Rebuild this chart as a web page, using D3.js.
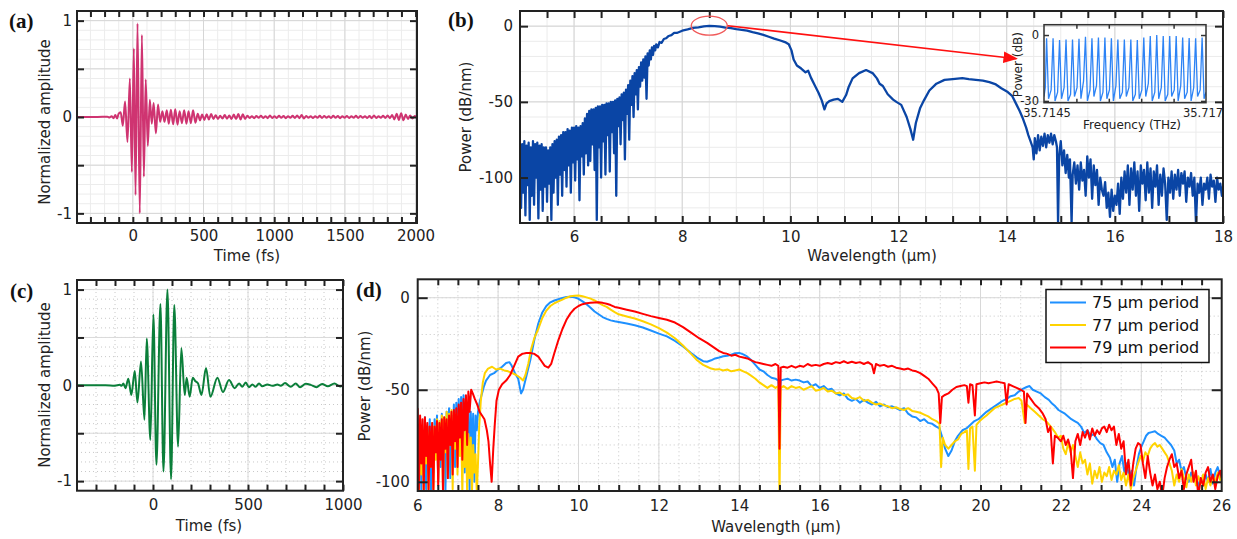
<!DOCTYPE html>
<html>
<head>
<meta charset="utf-8">
<script src="https://cdn.jsdelivr.net/npm/d3@7"></script>
<style>
body{margin:0;background:#fff;}
svg{display:block;font-family:"DejaVu Sans",sans-serif;}
</style>
</head>
<body>
<svg id="fig" width="1237" height="539"></svg>
<script>
// (a) time trace: [fs, normalized amplitude]
var pulseA = [[-395,0],[-250,0],[-180,0.003],[-165,-0.005],[-150,0.008],[-137,-0.012],[-124,0.02],[-112,-0.015],[-100,0.035],[-86,0.05],[-71,-0.09],[-55,0.16],[-38,-0.26],[-21,0.40],[-7,-0.57],[7,0.71],[19,-0.81],[33,0.97],[49,-1.0],[64,0.85],[78,-0.62],[91,0.39],[106,-0.30],[120,0.18],[134,-0.07],[147,0.145],[163,-0.17],[178,0.13],[193,-0.05],[209,0.06],[224,-0.05],[240,0.07],[254,-0.07],[269,0.076],[285,-0.076],[300,0.08],[316,-0.08],[331,0.06],[347,-0.065],[363,0.07],[379,-0.07],[394,0.06],[410,-0.065],[426,0.07],[443,-0.06],[459,0.035],[475,-0.035],
  [490,0.025],[506,-0.03],[522,0.028],[538,-0.025],[554,0.03],[570,-0.02],[586,0.018],[602,-0.02],[618,0.012],[634,-0.015],[650,0.02],[666,-0.018],[682,0.015],[698,-0.02],[714,0.025],[730,-0.022],[746,0.03],[762,-0.025],[778,0.028],[794,-0.02],[810,0.012],[826,-0.01],[842,0.008],[858,-0.012],[874,0.01],[890,-0.008],[906,0.012],[922,-0.01],[938,0.008],[954,-0.012],[970,0.015],[986,-0.01],[1002,0.008],[1018,-0.01],[1034,0.012],[1050,-0.008],[1066,0.01],[1082,-0.012],[1098,0.008],[1114,-0.008],[1130,0.012],[1146,-0.01],[1162,0.015],[1178,-0.012],[1194,0.02],[1210,-0.015],[1226,0.01],[1242,-0.008],[1258,0.008],[1274,-0.01],[1290,0.008],[1306,-0.008],[1322,0.012],[1338,-0.01],[1354,0.01],[1370,-0.008],[1386,0.008],[1402,-0.01],[1418,0.012],[1434,-0.008],[1450,0.01],[1466,-0.012],[1482,0.008],[1498,-0.008],[1514,0.01],[1530,-0.01],[1546,0.008],[1562,-0.008],[1578,0.012],[1594,-0.01],[1610,0.01],[1626,-0.008],[1642,0.008],[1658,-0.01],[1674,0.01],[1690,-0.012],[1706,0.015],[1722,-0.01],[1738,0.008],[1754,-0.008],[1770,0.012],[1786,-0.01],[1802,0.015],[1818,-0.012],[1834,0.02],[1850,-0.025],[1866,0.035],[1882,-0.03],[1898,0.04],[1914,-0.035],[1930,0.025],[1946,-0.02],[1962,0.015],[1978,-0.015],[1994,0.01],[2010,0]];

// (c) time trace: [fs, normalized amplitude]
var pulseC = [[-400,0],[-250,0.002],[-200,-0.003],[-175,0.005],[-165,-0.005],[-156,0.02],[-145,-0.03],[-130,0.07],[-114,-0.10],[-96,0.15],[-82,-0.18],[-63,0.25],[-45,-0.36],[-33,0.49],[-14,-0.57],[2,0.74],[18,-0.83],[39,0.85],[55,-0.90],[76,1.0],[95,-0.98],[112,0.84],[132,-0.64],[149,0.39],[167,-0.10],[177,0.08],[193,-0.12],[209,0.08],[222,0.045],[237,0.02],[255,-0.10],[279,0.18],[302,-0.12],[339,0.08],[368,-0.07],[400,0.055],[430,-0.03],[453,0.02],[470,-0.015],[488,0.03],[505,-0.02],[523,0.01],[540,-0.015],[558,0.02],[575,-0.01],[602,0.01],[628,-0.005],[655,0.008],[672,-0.005],[695,0.024],[725,-0.015],[751,0.02],[774,-0.02],[804,0.016],[830,0.005],[860,-0.02],[890,0.015],[920,-0.01],[955,0.02],[985,-0.012],[1000,0]];

// (b) spectrum: [wavelength um, dB/nm]
var spectrumB = [[5.00,-80],[5.02,-120],[5.04,-78],[5.06,-110],[5.08,-76],[5.10,-125],[5.12,-79],[5.14,-105],[5.16,-77],[5.18,-128],[5.20,-80],[5.22,-112],[5.24,-76],[5.26,-118],[5.28,-78],[5.30,-100],[5.32,-77],[5.34,-127],[5.36,-79],[5.38,-108],[5.40,-78],[5.42,-122],[5.44,-80],[5.46,-106],[5.48,-80],[5.50,-116],[5.52,-82],[5.54,-104],[5.56,-80],[5.58,-128],[5.60,-78],[5.62,-110],[5.64,-76],[5.66,-100],[5.68,-75],[5.70,-118],[5.72,-73],[5.74,-98],[5.76,-72],[5.78,-112],[5.80,-70],[5.82,-95],[5.84,-70],[5.86,-106],[5.88,-68],[5.90,-92],[5.92,-69],[5.94,-110],[5.96,-67],[5.98,-90],[6.00,-67],[6.02,-102],[6.04,-66],[6.06,-88],[6.08,-67],[6.10,-115],[6.12,-66],[6.14,-86],[6.16,-64],[6.18,-98],[6.20,-61],[6.22,-84],[6.24,-58],[6.26,-92],[6.28,-56],[6.30,-89],[6.32,-55],[6.34,-78],[6.36,-55],[6.38,-95],[6.40,-54],[6.42,-128],[6.44,-53],[6.46,-80],[6.48,-53],[6.50,-100],[6.52,-52],[6.54,-76],[6.56,-52],[6.58,-98],[6.60,-51],[6.62,-72],[6.64,-51],[6.66,-96],[6.68,-50],[6.70,-70],[6.72,-50],[6.74,-84],[6.76,-49],[6.78,-112],[6.80,-48],[6.82,-66],[6.84,-47],[6.86,-78],[6.88,-45],[6.90,-62],[6.92,-44],[6.94,-88],[6.96,-42],[6.98,-58],[7.00,-39],[7.02,-75],[7.04,-36],[7.06,-52],[7.08,-33],[7.10,-60],[7.12,-31],[7.14,-45],[7.16,-29],[7.18,-55],[7.20,-27],[7.22,-40],[7.24,-24],[7.26,-36],[7.28,-22],[7.30,-34],[7.32,-20],[7.34,-48],[7.36,-18],[7.38,-26],[7.40,-16],[7.42,-22],[7.44,-14],[7.46,-19],[7.48,-13],[7.50,-16],[7.52,-12],[7.55,-14],[7.58,-10.5],[7.62,-11],[7.66,-8.5],[7.70,-8],[7.75,-6.5],[7.80,-6],[7.85,-4.5],[7.90,-4.5],[8.00,-3],[8.10,-2.2],[8.20,-1.2],[8.30,-0.8],[8.40,-0.2],[8.50,0.2],[8.60,0],[8.70,-0.3],[8.80,-1],[8.90,-1.3],[9.00,-2],[9.10,-2.4],[9.20,-3],[9.30,-4],[9.40,-4.8],[9.50,-5.8],[9.60,-7],[9.70,-8.2],[9.80,-9.3],[9.90,-10.5],[9.97,-12],[10.02,-16],[10.06,-22],[10.12,-26],[10.20,-28],[10.28,-30.5],[10.33,-29.5],[10.38,-34],[10.45,-39],[10.52,-44],[10.58,-49],[10.63,-55],[10.67,-51],[10.72,-49.5],[10.80,-48.5],[10.88,-48],[10.96,-50],[11.03,-45.5],[11.08,-40],[11.15,-34.5],[11.27,-31],[11.40,-29],[11.52,-31],[11.60,-34.5],[11.65,-38],[11.71,-39.5],[11.80,-45],[11.90,-48.5],[11.96,-50],[12.05,-52],[12.15,-60],[12.22,-68],[12.27,-75],[12.32,-64],[12.40,-54],[12.47,-49],[12.57,-42.5],[12.70,-38],[12.85,-35.5],[13.00,-35],[13.18,-34.3],[13.30,-35],[13.43,-35.5],[13.56,-36],[13.68,-37],[13.80,-38.5],[13.90,-41],[14.02,-43.5],[14.10,-46],[14.17,-51],[14.24,-56],[14.30,-61],[14.36,-67],[14.40,-72],[14.44,-76],[14.48,-80],[14.50,-88],[14.52,-74],[14.55,-84],[14.58,-72],[14.61,-82],[14.64,-73],[14.67,-79],[14.70,-71],[14.73,-80],[14.76,-72],[14.79,-77],[14.82,-71],[14.85,-78],[14.88,-72],[14.91,-76],[14.93,-80],[14.95,-130],[14.97,-86],[15.00,-76],[15.03,-92],[15.06,-82],[15.09,-97],[15.12,-85],[15.15,-100],[15.17,-88],[15.20,-130],[15.22,-98],[15.25,-90],[15.28,-104],[15.31,-92],[15.34,-108],[15.37,-90],[15.40,-102],[15.43,-95],[15.46,-112],[15.49,-86],[15.52,-100],[15.55,-88],[15.58,-114],[15.61,-92],[15.64,-105],[15.67,-95],[15.70,-118],[15.73,-100],[15.76,-108],[15.79,-112],[15.82,-103],[15.85,-120],[15.88,-110],[15.91,-126],[15.94,-108],[15.97,-122],[16.00,-112],[16.03,-118],[16.06,-104],[16.09,-124],[16.12,-100],[16.15,-114],[16.18,-96],[16.21,-110],[16.24,-92],[16.27,-118],[16.30,-94],[16.33,-108],[16.36,-90],[16.39,-112],[16.42,-96],[16.45,-122],[16.48,-92],[16.51,-104],[16.54,-95],[16.57,-115],[16.60,-90],[16.63,-110],[16.66,-94],[16.69,-120],[16.72,-96],[16.75,-106],[16.78,-92],[16.81,-118],[16.84,-98],[16.87,-112],[16.90,-94],[16.93,-104],[16.96,-128],[16.99,-100],[17.02,-110],[17.05,-96],[17.08,-114],[17.11,-98],[17.14,-108],[17.17,-95],[17.20,-112],[17.23,-97],[17.26,-104],[17.29,-96],[17.32,-116],[17.35,-100],[17.38,-106],[17.41,-97],[17.44,-112],[17.47,-100],[17.50,-130],[17.53,-104],[17.56,-110],[17.59,-100],[17.62,-118],[17.65,-104],[17.68,-108],[17.71,-100],[17.74,-114],[17.77,-98],[17.80,-106],[17.83,-102],[17.86,-116],[17.89,-100],[17.92,-108],[17.95,-104],[17.98,-112],[18.00,-106]];

// (b) inset comb: [THz, dB]
var combInset = [[35.71450,-28],[35.71452,-24],[35.71454,-1.5],[35.71457,-29],[35.71461,-25],[35.71464,-1.5],[35.71467,-30],[35.71471,-26],[35.71474,-2.3],[35.71477,-29],[35.71481,-24],[35.71484,-2.0],[35.71487,-30],[35.71491,-27],[35.71494,-2.0],[35.71497,-28],[35.71501,-24],[35.71504,-1.7],[35.71507,-29],[35.71511,-21],[35.71514,-0.8],[35.71517,-30],[35.71521,-25],[35.71524,-1.5],[35.71527,-28],[35.71531,-23],[35.71534,-1.1],[35.71537,-30],[35.71541,-26],[35.71544,-1.1],[35.71547,-29],[35.71551,-25],[35.71554,-1.5],[35.71557,-30],[35.71561,-23],[35.71564,-2.0],[35.71567,-29],[35.71571,-26],[35.71574,-2.0],[35.71577,-28],[35.71581,-24],[35.71584,-2.0],[35.71587,-30],[35.71591,-27],[35.71594,-2.3],[35.71597,-29],[35.71601,-25],[35.71604,-1.1],[35.71607,-28],[35.71611,-22],[35.71614,-0.5],[35.71617,-30],[35.71621,-26],[35.71624,0],[35.71627,-29],[35.71631,-24],[35.71634,-0.5],[35.71637,-30],[35.71641,-27],[35.71644,-0.5],[35.71647,-28],[35.71651,-25],[35.71654,-0.5],[35.71657,-30],[35.71661,-23],[35.71664,-1.1],[35.71667,-29],[35.71671,-26],[35.71674,-1.4],[35.71677,-30],[35.71681,-24],[35.71684,-1.5],[35.71687,-28],[35.71691,-25],[35.71694,-1.1],[35.71697,-29],[35.71700,-26]];

// (d) spectra for three poling periods: [wavelength um, dB/nm]
var period75 = [[6.00,-70],[6.03,-98],[6.06,-66],[6.09,-105],[6.12,-72],[6.15,-90],[6.18,-65],[6.21,-104],[6.24,-70],[6.27,-88],[6.30,-66],[6.33,-105],[6.36,-72],[6.39,-95],[6.42,-66],[6.45,-84],[6.48,-64],[6.51,-100],[6.54,-70],[6.57,-92],[6.60,-63],[6.63,-82],[6.66,-66],[6.69,-105],[6.72,-62],[6.75,-86],[6.78,-60],[6.81,-98],[6.84,-64],[6.87,-78],[6.90,-58],[6.93,-92],[6.96,-57],[6.99,-74],[7.02,-55],[7.05,-85],[7.08,-54],[7.11,-70],[7.14,-53],[7.17,-95],[7.20,-56],[7.23,-80],[7.26,-58],[7.29,-105],[7.32,-62],[7.35,-84],[7.38,-63],[7.41,-100],[7.44,-64],[7.47,-72],[7.50,-62],[7.55,-56],[7.60,-52],[7.65,-48],[7.70,-45],[7.80,-42],[7.90,-41],[8.00,-39],[8.10,-37.5],[8.20,-35.5],[8.28,-35],[8.34,-37],[8.42,-41],[8.50,-44],[8.57,-52],[8.62,-50],[8.70,-43],[8.80,-34],[8.90,-23],[9.00,-14],[9.10,-8],[9.20,-4.5],[9.30,-2.5],[9.40,-1.5],[9.50,-0.8],[9.60,-0.2],[9.70,0.4],[9.80,0.5],[9.90,0.2],[10.00,-0.6],[10.10,-2],[10.20,-3.5],[10.30,-5.5],[10.40,-7.5],[10.50,-9],[10.60,-10.5],[10.70,-11.5],[10.80,-12.3],[10.90,-12.8],[11.00,-13.2],[11.20,-14],[11.40,-15],[11.60,-16.2],[11.80,-17.8],[12.00,-19.5],[12.20,-21],[12.40,-23.5],[12.60,-26.5],[12.80,-30],[12.95,-32.5],[13.10,-34.5],[13.20,-34.8],[13.30,-34],[13.40,-33],[13.50,-32.5],[13.60,-31.8],[13.70,-31.5],[13.80,-31],[13.90,-30.2],[14.00,-30],[14.10,-30.8],[14.20,-32],[14.30,-34],[14.40,-36.5],[14.50,-39],[14.60,-40],[14.70,-42],[14.80,-43.5],[14.90,-44],[14.97,-45],[15.00,-55],[15.03,-45],[15.10,-44.5],[15.20,-44],[15.30,-45],[15.40,-44.5],[15.50,-45],[15.60,-46],[15.70,-45.5],[15.80,-48],[15.90,-47],[16.00,-49],[16.10,-48],[16.20,-50],[16.30,-49.5],[16.40,-52],[16.50,-53],[16.60,-52],[16.70,-55],[16.80,-56],[16.90,-55],[17.00,-57],[17.10,-55.5],[17.20,-57],[17.30,-58],[17.40,-56.5],[17.50,-59],[17.60,-58],[17.70,-59.5],[17.80,-59],[17.90,-60],[18.00,-61],[18.10,-60],[18.20,-63],[18.30,-64.5],[18.40,-65],[18.50,-67],[18.60,-66],[18.70,-68],[18.80,-68.5],[18.90,-70],[18.98,-71],[19.05,-76],[19.12,-82],[19.20,-86],[19.28,-83],[19.36,-78],[19.44,-75],[19.55,-72],[19.65,-71],[19.75,-69],[19.85,-67],[19.95,-66],[20.05,-64],[20.15,-62],[20.25,-60.5],[20.35,-59],[20.45,-57.5],[20.55,-56],[20.65,-55],[20.75,-53.5],[20.85,-53],[20.95,-51],[21.05,-49.5],[21.15,-48.5],[21.22,-48],[21.30,-50],[21.40,-51],[21.50,-52],[21.60,-54],[21.70,-55.5],[21.78,-57.5],[21.86,-59],[21.94,-61],[22.02,-62],[22.10,-63],[22.18,-64.5],[22.26,-66],[22.34,-67],[22.42,-68],[22.50,-70],[22.58,-73.5],[22.66,-72],[22.74,-75],[22.82,-74],[22.90,-77],[22.98,-79],[23.06,-80],[23.14,-84],[23.22,-87],[23.28,-92],[23.34,-88],[23.40,-100],[23.46,-90],[23.52,-86],[23.58,-95],[23.64,-90],[23.70,-98],[23.76,-94],[23.82,-102],[23.88,-92],[23.94,-85],[24.00,-81],[24.06,-78],[24.12,-75],[24.18,-73.5],[24.26,-73],[24.34,-72.5],[24.42,-74],[24.50,-75],[24.58,-76],[24.66,-78],[24.74,-80],[24.82,-83],[24.88,-90],[24.94,-88],[25.00,-94],[25.06,-92],[25.12,-98],[25.18,-100],[25.24,-95],[25.30,-99],[25.36,-96],[25.42,-103],[25.48,-98],[25.54,-102],[25.60,-96],[25.66,-100],[25.72,-93],[25.78,-101],[25.84,-95],[25.90,-92],[25.96,-97],[26.00,-94]];

var period77 = [[6.00,-74],[6.03,-105],[6.06,-72],[6.09,-96],[6.12,-75],[6.15,-106],[6.18,-71],[6.21,-90],[6.24,-70],[6.27,-104],[6.30,-73],[6.33,-92],[6.36,-68],[6.39,-106],[6.42,-70],[6.45,-88],[6.48,-66],[6.51,-100],[6.54,-67],[6.57,-86],[6.60,-64],[6.63,-106],[6.66,-65],[6.69,-84],[6.72,-62],[6.75,-98],[6.78,-63],[6.81,-80],[6.84,-61],[6.87,-104],[6.90,-64],[6.93,-82],[6.96,-63],[6.99,-96],[7.02,-66],[7.05,-86],[7.08,-68],[7.11,-106],[7.14,-70],[7.17,-92],[7.20,-72],[7.23,-106],[7.26,-74],[7.29,-98],[7.32,-76],[7.35,-106],[7.38,-80],[7.41,-95],[7.44,-85],[7.47,-106],[7.50,-90],[7.53,-70],[7.57,-56],[7.62,-46],[7.67,-41],[7.75,-38.5],[7.85,-37.5],[7.95,-39],[8.05,-38.5],[8.15,-39.5],[8.25,-40],[8.35,-41],[8.45,-42],[8.55,-43.5],[8.62,-45],[8.68,-42],[8.75,-36],[8.82,-28],[8.90,-22],[9.00,-17],[9.10,-11],[9.20,-7],[9.30,-4.5],[9.40,-3],[9.50,-2],[9.60,-1],[9.70,0],[9.80,0.8],[9.90,1],[10.00,1.2],[10.10,0.8],[10.20,0.2],[10.30,-0.5],[10.40,-1.5],[10.50,-2.8],[10.60,-4],[10.70,-5],[10.80,-6.5],[10.90,-7.8],[11.00,-9],[11.20,-10.2],[11.40,-11.3],[11.60,-12.8],[11.80,-14.5],[12.00,-16.5],[12.20,-19],[12.40,-22],[12.60,-26],[12.80,-30.5],[12.95,-34],[13.10,-36.5],[13.20,-37.5],[13.30,-38.5],[13.40,-39],[13.50,-38.8],[13.60,-39.5],[13.70,-39],[13.80,-40],[13.90,-39.5],[14.00,-39],[14.10,-40],[14.20,-41],[14.30,-42.5],[14.40,-44],[14.50,-46],[14.60,-47.5],[14.70,-49],[14.80,-47.5],[14.90,-49],[14.97,-48],[15.00,-108],[15.03,-49],[15.10,-48],[15.20,-49.5],[15.30,-48],[15.40,-49],[15.50,-48.5],[15.60,-50],[15.70,-49],[15.80,-48],[15.90,-50.5],[16.00,-50],[16.10,-49],[16.20,-51],[16.30,-50.5],[16.40,-52],[16.50,-51.5],[16.60,-53],[16.70,-52.5],[16.80,-54.5],[16.90,-55],[17.00,-54],[17.10,-56],[17.20,-55.5],[17.30,-57],[17.40,-58],[17.50,-57.5],[17.60,-58.5],[17.70,-59],[17.80,-60],[17.90,-59.5],[18.00,-60.5],[18.10,-61],[18.20,-60],[18.30,-61.5],[18.40,-62],[18.50,-62.5],[18.60,-63.5],[18.70,-64.5],[18.80,-66],[18.90,-67],[18.98,-68.5],[19.02,-92],[19.06,-76],[19.12,-80],[19.20,-82],[19.28,-80],[19.36,-78],[19.44,-77],[19.52,-74],[19.60,-73],[19.66,-72],[19.70,-93],[19.74,-71],[19.80,-70],[19.86,-94],[19.90,-69],[19.98,-67],[20.06,-65.5],[20.15,-64],[20.25,-62],[20.35,-60],[20.45,-59],[20.55,-58],[20.65,-57],[20.75,-56],[20.85,-55],[20.95,-54.5],[21.02,-56],[21.10,-68],[21.15,-58],[21.25,-60],[21.35,-62],[21.45,-64],[21.55,-66],[21.65,-67.5],[21.75,-70],[21.85,-73],[21.93,-76],[22.00,-75],[22.06,-82],[22.12,-85],[22.18,-79],[22.24,-84],[22.30,-80],[22.36,-86],[22.42,-92],[22.48,-84],[22.54,-90],[22.60,-88],[22.66,-96],[22.72,-90],[22.78,-101],[22.84,-94],[22.90,-98],[22.96,-92],[23.02,-100],[23.08,-95],[23.14,-97],[23.20,-92],[23.26,-99],[23.32,-94],[23.38,-96],[23.44,-91],[23.50,-99],[23.56,-95],[23.62,-102],[23.68,-96],[23.74,-104],[23.80,-98],[23.86,-94],[23.92,-90],[23.98,-86],[24.04,-89],[24.10,-84],[24.16,-86],[24.22,-82],[24.28,-80],[24.34,-79],[24.40,-81],[24.46,-80],[24.52,-82],[24.58,-84],[24.64,-86],[24.70,-90],[24.76,-94],[24.82,-102],[24.88,-96],[24.94,-100],[25.00,-93],[25.06,-98],[25.12,-103],[25.18,-96],[25.24,-100],[25.30,-95],[25.36,-102],[25.42,-97],[25.48,-101],[25.54,-96],[25.60,-104],[25.66,-98],[25.72,-102],[25.78,-97],[25.84,-100],[25.90,-95],[25.96,-99],[26.00,-96]];

var period79 = [[6.00,-60],[6.03,-104],[6.06,-64],[6.09,-90],[6.12,-66],[6.15,-106],[6.18,-65],[6.21,-86],[6.24,-68],[6.27,-106],[6.30,-70],[6.33,-92],[6.36,-68],[6.39,-106],[6.42,-70],[6.45,-84],[6.48,-67],[6.51,-102],[6.54,-68],[6.57,-88],[6.60,-66],[6.63,-106],[6.66,-65],[6.69,-82],[6.72,-66],[6.75,-98],[6.78,-64],[6.81,-80],[6.84,-62],[6.87,-96],[6.90,-61],[6.93,-78],[6.96,-60],[6.99,-92],[7.02,-58],[7.05,-76],[7.08,-57],[7.11,-88],[7.14,-55],[7.17,-72],[7.20,-53],[7.23,-80],[7.26,-51],[7.29,-62],[7.33,-50],[7.37,-52],[7.42,-55],[7.48,-58],[7.54,-62],[7.60,-64],[7.66,-66],[7.72,-72],[7.76,-78],[7.80,-90],[7.84,-100],[7.88,-82],[7.92,-68],[7.96,-56],[8.02,-50],[8.10,-47],[8.20,-45],[8.30,-42],[8.40,-37],[8.50,-32],[8.60,-30.5],[8.70,-30],[8.80,-30],[8.90,-30.5],[9.00,-32],[9.08,-34.5],[9.16,-37],[9.25,-38],[9.32,-36],[9.40,-30],[9.50,-23],[9.60,-17],[9.70,-12],[9.80,-8.5],[9.90,-6],[10.00,-4.5],[10.10,-3.5],[10.20,-3],[10.30,-2.8],[10.40,-2.6],[10.50,-2.5],[10.60,-2.8],[10.70,-3.3],[10.80,-4],[10.90,-5],[11.00,-5.5],[11.20,-6.5],[11.40,-7.5],[11.60,-8.8],[11.80,-10],[12.00,-11],[12.20,-12],[12.40,-13.5],[12.60,-16],[12.80,-19],[13.00,-22],[13.20,-24.5],[13.40,-27.5],[13.50,-29],[13.60,-30],[13.70,-30.5],[13.80,-31.5],[13.90,-31],[14.00,-32],[14.10,-32.5],[14.20,-33],[14.30,-34],[14.40,-35],[14.50,-35.5],[14.60,-36],[14.70,-36.5],[14.80,-37],[14.90,-36],[14.97,-37],[15.00,-82],[15.03,-38],[15.10,-37.5],[15.20,-38],[15.30,-37],[15.40,-38],[15.50,-37],[15.60,-37.5],[15.70,-36],[15.80,-37],[15.90,-36.5],[16.00,-37],[16.10,-36],[16.20,-35.5],[16.30,-36],[16.40,-35],[16.50,-35.5],[16.60,-34.5],[16.70,-35.5],[16.80,-34.8],[16.90,-35.5],[17.00,-35],[17.10,-36],[17.20,-35],[17.30,-36.5],[17.35,-41],[17.40,-36],[17.50,-37],[17.60,-36.5],[17.70,-37.5],[17.80,-37],[17.90,-38],[18.00,-38.5],[18.10,-39],[18.20,-38.5],[18.30,-39.5],[18.40,-40],[18.50,-41],[18.60,-42.5],[18.70,-44],[18.80,-46.5],[18.90,-49],[18.96,-52],[19.00,-68],[19.04,-54],[19.10,-53],[19.20,-52],[19.30,-50],[19.40,-48.5],[19.50,-48],[19.60,-47.5],[19.66,-48],[19.70,-57],[19.74,-47],[19.80,-47.5],[19.86,-64],[19.90,-47],[20.00,-46.5],[20.10,-46],[20.20,-46.5],[20.30,-46],[20.40,-45.5],[20.50,-46],[20.60,-46.5],[20.65,-58],[20.70,-47],[20.80,-48],[20.90,-49],[21.00,-50],[21.08,-51],[21.12,-68],[21.16,-52],[21.25,-55],[21.35,-58],[21.45,-60],[21.55,-63],[21.62,-66],[21.68,-73],[21.74,-70],[21.80,-90],[21.85,-75],[21.92,-76],[22.00,-78],[22.06,-75],[22.12,-80],[22.18,-77],[22.24,-82],[22.30,-98],[22.36,-78],[22.42,-74],[22.48,-80],[22.54,-73],[22.60,-76],[22.66,-72],[22.72,-77],[22.78,-71],[22.84,-75],[22.90,-72],[22.96,-74],[23.02,-71],[23.08,-70],[23.14,-73],[23.20,-69],[23.26,-72],[23.32,-70],[23.38,-80],[23.44,-74],[23.50,-82],[23.56,-78],[23.62,-96],[23.68,-88],[23.74,-102],[23.80,-90],[23.86,-82],[23.92,-79],[23.98,-80],[24.04,-90],[24.10,-98],[24.16,-86],[24.22,-95],[24.28,-102],[24.34,-96],[24.40,-104],[24.46,-100],[24.52,-108],[24.58,-98],[24.64,-92],[24.70,-88],[24.76,-85],[24.82,-92],[24.88,-90],[24.94,-98],[25.00,-94],[25.06,-104],[25.12,-96],[25.18,-92],[25.24,-88],[25.30,-100],[25.36,-94],[25.42,-108],[25.48,-98],[25.54,-102],[25.60,-95],[25.66,-92],[25.72,-100],[25.78,-96],[25.84,-104],[25.90,-97],[25.96,-94],[26.00,-98]];

var legendLabels = ['75 \u00b5m period', '77 \u00b5m period', '79 \u00b5m period'];
var legendColors = ['#1e90ff', '#ffd300', '#ff0000'];

var svg = d3.select('#fig');
var ink = '#222';

function fmt(d) { return String(+d.toFixed(4)); }

function makePanel(p) {
  var g = svg.append('g');
  var x = d3.scaleLinear().domain(p.xDomain).range([p.x0, p.x1]);
  var y = d3.scaleLinear().domain(p.yDomain).range([p.y1, p.y0]);

  svg.append('clipPath').attr('id', 'clip-' + p.name).append('rect')
    .attr('x', p.x0).attr('y', p.y0).attr('width', p.x1 - p.x0).attr('height', p.y1 - p.y0);

  // grid: minor first, major on top
  var grid = g.append('g');
  function gridLines(xs, ys, color, dash) {
    grid.selectAll(null).data(xs).enter().append('line')
      .attr('x1', x).attr('x2', x).attr('y1', p.y0).attr('y2', p.y1)
      .attr('stroke', color).attr('stroke-width', 1).attr('stroke-dasharray', dash);
    grid.selectAll(null).data(ys).enter().append('line')
      .attr('y1', y).attr('y2', y).attr('x1', p.x0).attr('x2', p.x1)
      .attr('stroke', color).attr('stroke-width', 1).attr('stroke-dasharray', dash);
  }
  gridLines(p.xMinorGrid, p.yMinorGrid, p.minorColor, p.minorDash);
  gridLines(p.xMajorGrid, p.yMajorGrid, p.majorColor, null);

  var plot = g.append('g').attr('clip-path', 'url(#clip-' + p.name + ')');

  // axes: inward ticks on all four sides
  function styleAxis(sel) {
    sel.select('.domain').remove();
    sel.selectAll('line').attr('stroke', ink).attr('stroke-width', 2);
    sel.selectAll('text').attr('fill', ink).style('font-size', '15px')
      .style('font-family', '"DejaVu Sans",sans-serif');
  }
  var axes = g.append('g');
  axes.append('g').attr('transform', 'translate(0,' + p.y1 + ')')
    .call(d3.axisBottom(x).tickValues(p.xTicks).tickSize(-p.xTickLen).tickPadding(p.xPad)
      .tickFormat(function(d) { return p.xLabels.indexOf(d) >= 0 ? fmt(d) : ''; }))
    .call(styleAxis);
  axes.append('g').attr('transform', 'translate(0,' + p.y0 + ')')
    .call(d3.axisTop(x).tickValues(p.xTicks).tickSize(-p.xTickLen).tickFormat(''))
    .call(styleAxis);
  axes.append('g').attr('transform', 'translate(' + p.x0 + ',0)')
    .call(d3.axisLeft(y).tickValues(p.yTicks).tickSize(-p.yTickLen).tickPadding(p.yPad)
      .tickFormat(function(d) { return p.yLabels.indexOf(d) >= 0 ? fmt(d) : ''; }))
    .call(styleAxis);
  axes.append('g').attr('transform', 'translate(' + p.x1 + ',0)')
    .call(d3.axisRight(y).tickValues(p.yTicks).tickSize(-p.yTickLen).tickFormat(''))
    .call(styleAxis);
  axes.append('rect').attr('x', p.x0).attr('y', p.y0)
    .attr('width', p.x1 - p.x0).attr('height', p.y1 - p.y0)
    .attr('fill', 'none').attr('stroke', ink).attr('stroke-width', 2);

  // titles
  g.append('text').attr('x', p.xTitlePos[0]).attr('y', p.xTitlePos[1])
    .attr('text-anchor', 'middle').style('font-size', '15px').attr('fill', ink).text(p.xTitle);
  g.append('text').attr('transform', 'translate(' + p.yTitlePos[0] + ',' + p.yTitlePos[1] + ') rotate(-90)')
    .attr('text-anchor', 'middle').attr('dy', '0.35em').style('font-size', '15px').attr('fill', ink).text(p.yTitle);
  g.append('text').attr('x', p.tagPos[0]).attr('y', p.tagPos[1])
    .style('font-family', '"Liberation Serif","Times New Roman",serif').style('font-weight', 'bold')
    .style('font-size', '21px').attr('fill', '#111').text(p.tag);

  return {g: g, plot: plot, x: x, y: y, axes: axes};
}

function drawLine(pan, data, color, width, curve) {
  var line = d3.line().x(function(d) { return pan.x(d[0]); }).y(function(d) { return pan.y(d[1]); })
    .curve(curve || d3.curveLinear);
  pan.plot.append('path').datum(data).attr('d', line)
    .attr('fill', 'none').attr('stroke', color).attr('stroke-width', width)
    .attr('stroke-linejoin', 'round');
}

var timeTicksA = d3.range(-300, 2001, 100);
var unitTicks = [-1, -0.5, 0, 0.5, 1];

// (a)
var pa = makePanel({
  name: 'a', x0: 77, x1: 417, y0: 11, y1: 223,
  xDomain: [-395, 2010], yDomain: [-1.1, 1.1],
  xMinorGrid: timeTicksA, yMinorGrid: d3.range(-1, 1.01, 0.1),
  xMajorGrid: [0, 500, 1000, 1500, 2000], yMajorGrid: unitTicks,
  minorColor: '#ececec', minorDash: null, majorColor: '#d6d6d6',
  xTicks: timeTicksA, xLabels: [0, 500, 1000, 1500, 2000], xTickLen: 6, xPad: 7,
  yTicks: unitTicks, yLabels: [-1, 0, 1], yTickLen: 7, yPad: 5,
  xTitle: 'Time (fs)', xTitlePos: [247, 261],
  yTitle: 'Normalized amplitude', yTitlePos: [45, 122],
  tag: '(a)', tagPos: [9, 28]
});
drawLine(pa, pulseA, '#cf3471', 2, d3.curveMonotoneX);

// (c)
var timeTicksC = d3.range(-300, 1001, 100);
var pc = makePanel({
  name: 'c', x0: 77, x1: 343, y0: 280, y1: 490.7,
  xDomain: [-400, 1000], yDomain: [-1.1, 1.1],
  xMinorGrid: timeTicksC, yMinorGrid: d3.range(-1, 1.01, 0.1),
  xMajorGrid: [0, 500], yMajorGrid: unitTicks,
  minorColor: '#c8c8c8', minorDash: '1,3', majorColor: '#dadada',
  xTicks: timeTicksC, xLabels: [0, 500, 1000], xTickLen: 6, xPad: 9,
  yTicks: unitTicks, yLabels: [-1, 0, 1], yTickLen: 7, yPad: 5,
  xTitle: 'Time (fs)', xTitlePos: [209, 531],
  yTitle: 'Normalized amplitude', yTitlePos: [45, 385],
  tag: '(c)', tagPos: [10, 298]
});
drawLine(pc, pulseC, '#0b7f3a', 2, d3.curveMonotoneX);

// (b)
var pb = makePanel({
  name: 'b', x0: 520, x1: 1223, y0: 11, y1: 223,
  xDomain: [5, 18], yDomain: [-130, 10],
  xMinorGrid: d3.range(5.5, 18, 0.5), yMinorGrid: d3.range(-120, 10, 10),
  xMajorGrid: d3.range(6, 18, 2), yMajorGrid: [0, -50, -100],
  minorColor: '#ebebeb', minorDash: null, majorColor: '#d4d4d4',
  xTicks: d3.range(5.5, 18.01, 0.5), xLabels: [6, 8, 10, 12, 14, 16, 18], xTickLen: 7, xPad: 8,
  yTicks: [0, -50, -100], yLabels: [0, -50, -100], yTickLen: 8, yPad: 7,
  xTitle: 'Wavelength (\u00b5m)', xTitlePos: [872, 261],
  yTitle: 'Power (dB/nm)', yTitlePos: [466, 117],
  tag: '(b)', tagPos: [448, 27]
});
drawLine(pb, spectrumB, '#0a45a5', 2.3);

// highlight + arrow to inset
svg.append('defs').append('marker').attr('id', 'arrowhead')
  .attr('viewBox', '0 0 10 10').attr('refX', 9).attr('refY', 5)
  .attr('markerWidth', 9).attr('markerHeight', 9).attr('orient', 'auto')
  .append('path').attr('d', 'M0,1 L10,5 L0,9 Z').attr('fill', '#ff1010');
pb.g.append('ellipse').attr('cx', pb.x(8.5)).attr('cy', pb.y(0.3)).attr('rx', 18).attr('ry', 9.5)
  .attr('fill', 'none').attr('stroke', '#f05a5a').attr('stroke-width', 1.3);
pb.g.append('line').attr('x1', pb.x(8.84)).attr('y1', pb.y(0.3))
  .attr('x2', pb.x(14.18)).attr('y2', pb.y(-21.5))
  .attr('stroke', '#ff1010').attr('stroke-width', 1.6).attr('marker-end', 'url(#arrowhead)');

// inset
var inset = {x0: 1044, x1: 1206, y0: 24.7, y1: 102.7};
var ix = d3.scaleLinear().domain([35.7145, 35.717]).range([inset.x0, inset.x1]);
var iy = d3.scaleLinear().domain([-30.8, 4.7]).range([inset.y1, inset.y0]);
svg.append('clipPath').attr('id', 'clip-inset').append('rect')
  .attr('x', inset.x0).attr('y', inset.y0).attr('width', inset.x1 - inset.x0).attr('height', inset.y1 - inset.y0);
var ig = svg.append('g');
ig.append('g').attr('clip-path', 'url(#clip-inset)').append('path').datum(combInset)
  .attr('d', d3.line().x(function(d) { return ix(d[0]); }).y(function(d) { return iy(d[1]); }))
  .attr('fill', 'none').attr('stroke', '#2d83f5').attr('stroke-width', 1.3);
function insetAxis(sel) {
  sel.select('.domain').remove();
  sel.selectAll('line').attr('stroke', '#333').attr('stroke-width', 1.5);
}
var iTicks = [35.715, 35.7155, 35.716, 35.7165];
ig.append('g').attr('transform', 'translate(0,' + inset.y0 + ')')
  .call(d3.axisTop(ix).tickValues(iTicks).tickSize(-4).tickFormat('')).call(insetAxis);
ig.append('g').attr('transform', 'translate(0,' + inset.y1 + ')')
  .call(d3.axisBottom(ix).tickValues(iTicks).tickSize(-4).tickFormat('')).call(insetAxis);
ig.append('g').attr('transform', 'translate(' + inset.x0 + ',0)')
  .call(d3.axisLeft(iy).tickValues([0, -30]).tickSize(-5).tickFormat('')).call(insetAxis);
ig.append('g').attr('transform', 'translate(' + inset.x1 + ',0)')
  .call(d3.axisRight(iy).tickValues([0, -30]).tickSize(-5).tickFormat('')).call(insetAxis);
ig.append('rect').attr('x', inset.x0).attr('y', inset.y0)
  .attr('width', inset.x1 - inset.x0).attr('height', inset.y1 - inset.y0)
  .attr('fill', 'none').attr('stroke', '#333').attr('stroke-width', 1.5);
ig.selectAll(null).data([0, -30]).enter().append('text')
  .attr('x', inset.x0 - 5).attr('y', iy).attr('dy', '0.35em').attr('text-anchor', 'end')
  .style('font-size', '11.5px').attr('fill', ink).text(fmt);
ig.selectAll(null).data([35.7145, 35.717]).enter().append('text')
  .attr('x', function(d) { return ix(d) + (d > 35.716 ? -3 : 3); }).attr('y', inset.y1 + 14)
  .attr('text-anchor', 'middle').style('font-size', '11.5px').attr('fill', ink).text(fmt);
ig.append('text').attr('x', 1132).attr('y', 129).attr('text-anchor', 'middle')
  .style('font-size', '12px').attr('fill', ink).text('Frequency (THz)');
ig.append('text').attr('transform', 'translate(1018,' + ((inset.y0 + inset.y1) / 2 + 1) + ') rotate(-90)')
  .attr('text-anchor', 'middle').attr('dy', '0.35em').style('font-size', '12px').attr('fill', ink).text('Power (dB)');

// (d)
var pd = makePanel({
  name: 'd', x0: 417.7, x1: 1221.7, y0: 279.3, y1: 491,
  xDomain: [6, 26], yDomain: [-105, 10],
  xMinorGrid: d3.range(6.5, 26, 0.5), yMinorGrid: d3.range(-100, 10, 10),
  xMajorGrid: d3.range(8, 26, 2), yMajorGrid: [0, -50, -100],
  minorColor: '#c6c6c6', minorDash: '1,3', majorColor: '#d8d8d8',
  xTicks: d3.range(6.5, 26, 0.5), xLabels: d3.range(6, 26.1, 2), xTickLen: 6, xPad: 9,
  yTicks: [0, -50, -100], yLabels: [0, -50, -100], yTickLen: 10, yPad: 8,
  xTitle: 'Wavelength (\u00b5m)', xTitlePos: [776, 532],
  yTitle: 'Power (dB/nm)', yTitlePos: [365, 386],
  tag: '(d)', tagPos: [356, 297]
});
// outer x labels sit on the frame corners
pd.axes.append('g').selectAll(null).data([6, 26]).enter().append('text')
  .attr('x', pd.x).attr('y', 491 + 9).attr('dy', '0.71em').attr('text-anchor', 'middle')
  .style('font-size', '15px').attr('fill', ink).text(fmt);
[period75, period77, period79].forEach(function(s, i) {
  drawLine(pd, s, legendColors[i], 2);
});

// legend
var lg = pd.g.append('g');
lg.append('rect').attr('x', 1046).attr('y', 289.5).attr('width', 163).attr('height', 73)
  .attr('fill', '#fff').attr('stroke', '#111').attr('stroke-width', 1.5);
var rows = lg.selectAll(null).data(legendLabels).enter().append('g')
  .attr('transform', function(d, i) { return 'translate(1050,' + (302.5 + i * 22.5) + ')'; });
rows.append('line').attr('x1', 0).attr('x2', 36).attr('stroke-width', 2)
  .attr('stroke', function(d, i) { return legendColors[i]; });
rows.append('text').attr('x', 42).attr('dy', '0.35em').style('font-size', '16px')
  .attr('fill', '#111').text(function(d) { return d; });
</script>
</body>
</html>
